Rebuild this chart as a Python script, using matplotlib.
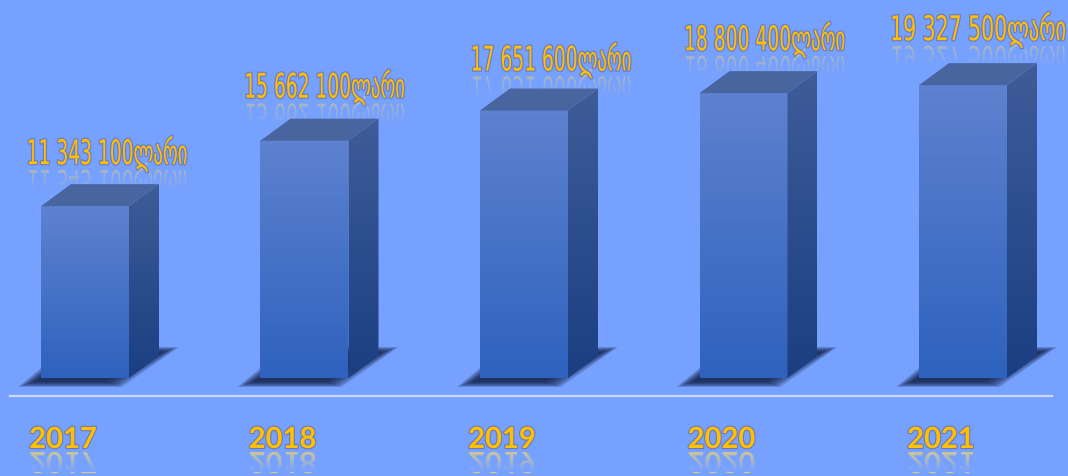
import numpy as np
import matplotlib
matplotlib.use("Agg")
import matplotlib.pyplot as plt
import matplotlib.patheffects as pe
from matplotlib.patches import Polygon
from matplotlib.transforms import Affine2D

years = ["2017", "2018", "2019", "2020", "2021"]
values = [11343100, 15662100, 17651600, 18800400, 19327500]
unit = "ლარი"

BG = "#76A1FF"
GOLD = "#FFC000"
W, H = 1068, 476
PER_PX = 66000      # value per pixel
STEP = 219.5        # pixels between bars
DEPTH_X, DEPTH_Y = 30 / STEP, 22 * PER_PX
HALF = 44 / STEP
BASE_PX = 378


class Squeeze(pe.AbstractPathEffect):
    # squeezes glyphs sideways round the anchor, flips them for the reflections
    def __init__(self, anchor, sx=1.0, sy=1.0, stroke=None, lw=0, alpha=1.0, fill=True):
        self.anchor, self.sx, self.sy = anchor, sx, sy
        self.stroke, self.lw, self.alpha, self.fill = stroke, lw, alpha, fill

    def draw_path(self, renderer, gc, tpath, affine, rgbFace=None):
        ax_, ay_ = self.anchor
        a2 = affine + Affine2D().translate(-ax_, -ay_).scale(self.sx, self.sy).translate(ax_, ay_)
        g = renderer.new_gc()
        g.copy_properties(gc)
        g.set_alpha(self.alpha)
        if self.stroke is not None:
            g.set_foreground(self.stroke)
            g.set_linewidth(self.lw)
            renderer.draw_path(g, tpath, a2, None)
        if self.fill:
            g.set_linewidth(0)
            renderer.draw_path(g, tpath, a2, rgbFace)
        g.restore()


def grad(c1, c2, n=64):
    a = np.array(matplotlib.colors.to_rgb(c1))
    b = np.array(matplotlib.colors.to_rgb(c2))
    t = np.linspace(0, 1, n)[:, None]
    return (a * (1 - t) + b * t)[:, None, :]


fig = plt.figure(figsize=(W / 100, H / 100), dpi=100, facecolor=BG)
ax = fig.add_axes([0, 0, 1, 1], facecolor=BG)
ax.set_xlim(-85 / STEP, (W - 85) / STEP)
ax.set_ylim(-(H - BASE_PX) * PER_PX, BASE_PX * PER_PX)
ax.axis("off")
pix = Affine2D()  # figure pixels

# floor line
ax.plot([10, 1052], [H - 396, H - 396], color="#C9D9FF", lw=1.6, transform=pix, zorder=1)

sx_list = [0.548, 0.548, 0.548, 0.55, 0.6]
label_dx = [22, 20, 27, 21, 15]
label_dy = [42, 43, 40, 43, 45]

# reflection fade, clear near the text and solid background further down
fade = np.zeros((32, 1, 4))
fade[..., :3] = matplotlib.colors.to_rgb(BG)
fade[:, 0, 3] = np.linspace(0.1, 1, 32)

for i, v in enumerate(values):
    l, r = i - HALF, i + HALF
    # soft shadow on the floor, stacked translucent outlines
    for k in range(10):
        gy = k * 0.6 * PER_PX
        gx = k * 1.8 / STEP
        shadow = Polygon([(l - 23 / STEP + gx, -9 * PER_PX + gy), (r - 7 / STEP - gx, -9 * PER_PX + gy),
                          (r + 50 / STEP - gx, 31 * PER_PX - gy), (l + 25 / STEP + gx, 31 * PER_PX - gy)],
                         closed=True, fc="#121F45", ec="none", alpha=0.17, zorder=2)
        ax.add_patch(shadow)
    # front face
    ax.imshow(grad("#5E82CF", "#2E62BE"), extent=[l, r, 0, v], aspect="auto", zorder=5)
    # side face
    side = Polygon([(r, 0), (r + DEPTH_X, DEPTH_Y), (r + DEPTH_X, v + DEPTH_Y), (r, v)],
                   closed=True, fc="none", ec="none", zorder=5)
    ax.add_patch(side)
    im = ax.imshow(grad("#3E5C98", "#1B3F82"), extent=[r, r + DEPTH_X, 0, v + DEPTH_Y],
                   aspect="auto", zorder=5)
    im.set_clip_path(side)
    # top face
    ax.add_patch(Polygon([(l, v), (r, v), (r + DEPTH_X, v + DEPTH_Y), (l + DEPTH_X, v + DEPTH_Y)],
                         closed=True, fc="#48659F", ec="none", zorder=6))

    # value label and reflection, anchored above the bar top
    top = ax.transData.transform((i, v))
    cx, base = top[0] + label_dx[i], top[1] + label_dy[i]
    txt = f"{v:,}".replace(",", " ") + unit
    ax.text(cx, base, txt, transform=pix, ha="center", va="baseline", fontsize=24.5, color=GOLD,
            family="DejaVu Sans", zorder=8,
            path_effects=[Squeeze((cx, base), sx_list[i], stroke="#6C6FA6", lw=1.8, alpha=0.7, fill=False),
                          Squeeze((cx, base), sx_list[i])])
    mir = base - 6
    ax.text(cx, mir, txt, transform=pix, ha="center", va="baseline", fontsize=24.5, color="#D8C88A",
            family="DejaVu Sans", zorder=3,
            path_effects=[Squeeze((cx, mir), sx_list[i], sy=-1, alpha=0.6)])
    ax.imshow(fade, extent=[cx - 100, cx + 100, mir - 20, mir], transform=pix, aspect="auto", zorder=4)
    ax.fill_between([cx - 100, cx + 100], mir - 40, mir - 20, color=BG, lw=0, transform=pix, zorder=4)

    # year label and reflection
    yx = top[0] - 22
    yb, ym = H - 448, H - 452
    ax.text(yx, yb, years[i], transform=pix, ha="center", va="baseline", fontsize=21, color=GOLD,
            family="Lato", fontweight="bold", zorder=8,
            path_effects=[Squeeze((yx - 1, yb + 1), stroke="#6C6FA6", lw=1.6, alpha=0.8, fill=False),
                          Squeeze((yx, yb))])
    ax.text(yx, ym, years[i], transform=pix, ha="center", va="baseline", fontsize=21, color="#E8D07A",
            family="Lato", fontweight="bold", zorder=3,
            path_effects=[Squeeze((yx, ym), sy=-1, alpha=0.85)])
    ax.imshow(fade, extent=[yx - 50, yx + 50, ym - 20, ym], transform=pix, aspect="auto", zorder=4)

ax.set_xlim(-85 / STEP, (W - 85) / STEP)
ax.set_ylim(-(H - BASE_PX) * PER_PX, BASE_PX * PER_PX)
fig.savefig("out.png", dpi=100, facecolor=BG)
